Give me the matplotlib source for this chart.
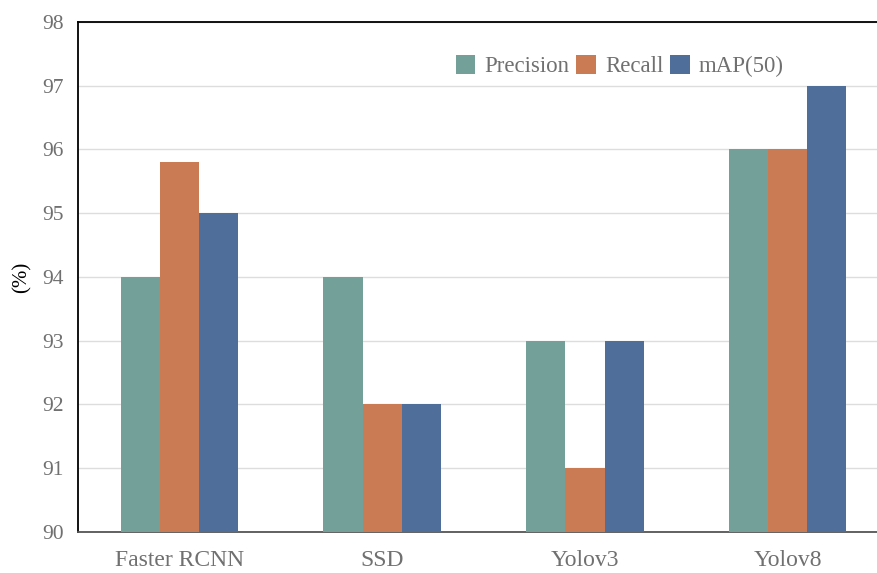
import numpy as np
import matplotlib
matplotlib.use("Agg")
import matplotlib.pyplot as plt

plt.rcParams['font.family'] = ['Liberation Serif', 'DejaVu Serif']

models = ["Faster RCNN", "SSD", "Yolov3", "Yolov8"]
precision = [94, 94, 93, 96]
recall = [95.8, 92, 91, 96]
map50 = [95, 92, 93, 97]

series_names = ["Precision", "Recall", "mAP(50)"]
colors = ["#73A19A", "#CB7B53", "#4F6F9A"]

fig = plt.figure(figsize=(8.77, 5.73), dpi=100)
ax = fig.add_axes([0.0889, 0.0716, 0.9111, 0.89])

x = np.arange(len(models))
w = 0.193
for i, (vals, name) in enumerate(zip([precision, recall, map50], series_names)):
    ax.bar(x + (i - 1) * w, np.array(vals) - 90, w, bottom=90,
           color=colors[i], label=name, zorder=3)

ax.set_ylim(90, 98)
ax.set_xlim(-0.5, 3.44)
ax.set_yticks(range(90, 99))
ax.set_xticks(x)
ax.set_xticklabels(models)
ax.yaxis.grid(True, color="#DDDDDD", linewidth=1, zorder=0)
ax.tick_params(axis="both", length=0, labelcolor="#707070")
ax.tick_params(axis="x", pad=13, labelsize=17)
ax.tick_params(axis="y", pad=10, labelsize=15.5)

ax.spines["right"].set_visible(False)
ax.spines["top"].set_color("black")
ax.spines["left"].set_color("black")
ax.spines["bottom"].set_color("#555555")
for s in ["top", "left", "bottom"]:
    ax.spines[s].set_linewidth(1.3)

ax.set_ylabel("(%)", fontsize=15, color="black", labelpad=8)

ax.legend(loc="upper left", bbox_to_anchor=(0.447, 0.975), ncol=3, frameon=False,
          fontsize=16.5, labelcolor="#707070", handlelength=0.85, handleheight=0.85,
          handletextpad=0.4, columnspacing=0.3)

fig.savefig("out.png", dpi=100)
